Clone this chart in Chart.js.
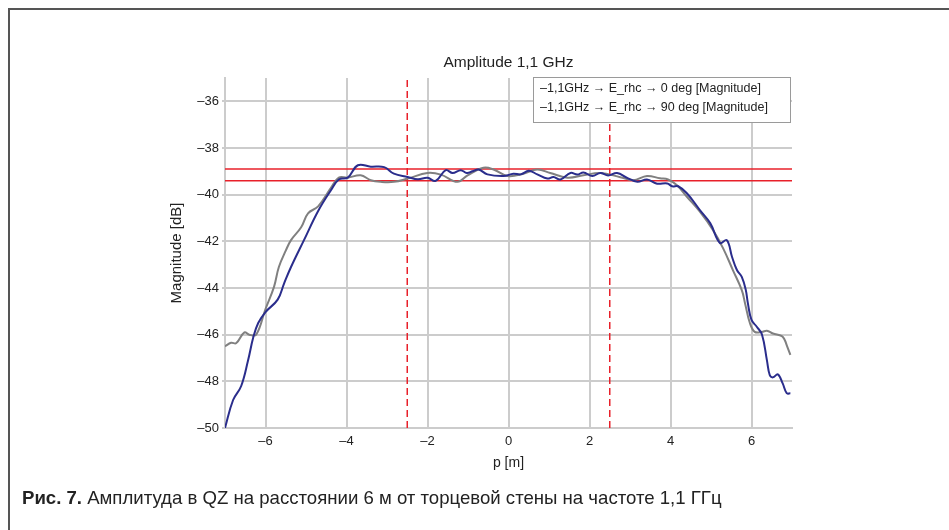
<!DOCTYPE html>
<html>
<head>
<meta charset="utf-8">
<script src="https://cdn.jsdelivr.net/npm/chart.js@4"></script>
<style>
  html, body { margin: 0; padding: 0; background: #fff; }
  #wrap { position: relative; width: 949px; height: 530px; overflow: hidden; }
  #frame { position: absolute; left: 8px; top: 8px; width: 960px; height: 540px;
           border-top: 2px solid #555; border-left: 2px solid #555; }
  #caption { position: absolute; left: 22px; top: 487px; font-family: "Liberation Sans Narrow", "Liberation Sans", sans-serif;
             font-size: 18.6px; color: #222; white-space: nowrap; }
  #caption b { font-weight: bold; }
  canvas { position: absolute; left: 0; top: 0; }
</style>
</head>
<body>
<div id="wrap">
  <div id="frame"></div>
  <canvas id="chart" width="949" height="530"></canvas>
  <div id="caption"><b>Рис. 7.</b> Амплитуда в QZ на расстоянии 6 м от торцевой стены на частоте 1,1 ГГц</div>
</div>
<script>
// --- Date ---
const chartTitle = 'Amplitude 1,1 GHz';
const xTicks = [-6, -4, -2, 0, 2, 4, 6];
const yTicks = [-50, -48, -46, -44, -42, -40, -38, -36];

// 0 deg (gri)
const p0 = [-7, -6.85, -6.72, -6.52, -6.4, -6.23, -6, -5.79, -5.67, -5.5, -5.37, -5.12, -4.95, -4.7, -4.38, -4.19,
  -3.97, -3.65, -3.4, -3.15, -2.83, -2.49, -2, -1.67, -1.26, -1.01, -0.62, -0.37, -0.02, 0.37, 0.71, 1.03, 1.45,
  1.85, 2.27, 2.76, 3.08, 3.42, 3.74, 3.94, 4.16, 4.41, 4.73, 5.05, 5.3, 5.54, 5.76, 5.84, 5.96, 6.08, 6.26, 6.38,
  6.53, 6.75, 6.82, 6.88, 6.96];
const mag0 = [-46.5, -46.35, -46.36, -45.9, -46.0, -46.0, -44.9, -43.95, -43.1, -42.4, -41.95, -41.4, -40.8, -40.5,
  -39.7, -39.27, -39.27, -39.17, -39.38, -39.45, -39.45, -39.31, -39.07, -39.14, -39.45, -39.17, -38.85, -38.92,
  -39.2, -39.1, -38.92, -39.07, -39.27, -39.17, -39.07, -39.25, -39.38, -39.2, -39.3, -39.35, -39.6, -40.1, -40.74,
  -41.52, -42.3, -43.23, -44.09, -44.65, -45.5, -45.88, -45.88, -45.83, -45.95, -46.06, -46.23, -46.5, -46.87];

// 90 deg (albastru)
const p90 = [-7, -6.8, -6.6, -6.43, -6.3, -6.18, -6, -5.7, -5.54, -5.37, -5.05, -4.7, -4.38, -4.19, -3.97, -3.72,
  -3.4, -3.07, -2.83, -2.49, -2.24, -2, -1.8, -1.55, -1.38, -1.18, -1.03, -0.89, -0.74, -0.52, -0.12, 0.12, 0.3, 0.5,
  0.71, 0.96, 1.11, 1.28, 1.53, 1.7, 1.85, 2.07, 2.27, 2.46, 2.68, 2.93, 3.18, 3.42, 3.67, 3.92, 4.04, 4.19, 4.41,
  4.73, 4.98, 5.22, 5.39, 5.52, 5.64, 5.76, 5.86, 5.91, 6.0, 6.13, 6.26, 6.38, 6.45, 6.53, 6.65, 6.77, 6.87, 6.96];
const mag90 = [-50, -48.8, -48.2, -47.1, -46.1, -45.5, -45.03, -44.5, -43.8, -43.1, -41.95, -40.7, -39.8, -39.35,
  -39.27, -38.74, -38.8, -38.82, -39.1, -39.24, -39.34, -39.28, -39.41, -38.95, -39.07, -38.95, -39.07, -39.0,
  -38.92, -39.13, -39.2, -39.1, -39.13, -38.98, -39.13, -39.31, -39.24, -39.35, -39.07, -39.14, -39.05, -39.2,
  -39.07, -39.18, -39.07, -39.28, -39.45, -39.35, -39.53, -39.52, -39.64, -39.64, -39.95, -40.67, -41.22, -42.07,
  -41.95, -42.67, -43.23, -43.52, -44.09, -44.65, -45.37, -45.66, -46.0, -47.09, -47.73, -47.83, -47.7, -48.09,
  -48.51, -48.51];

// Liniile rosii de referinta
const refLevels = [-38.9, -39.4];
const qzEdges = [-2.5, 2.5];

const labels = ['\u20131,1GHz \u2192 E_rhc \u2192 0 deg [Magnitude]', '\u20131,1GHz \u2192 E_rhc \u2192 90 deg [Magnitude]'];

const toPoints = (xs, ys) => xs.map((x, i) => ({ x: x, y: ys[i] }));
const dash = s => String(s).replace('-', '\u2013');
const FONT = '"Liberation Sans", Arial, sans-serif';

const datasets = [
  { label: labels[1], data: toPoints(p90, mag90), borderColor: '#2a2d8c', borderWidth: 2, tension: 0.4, order: 0 },
  { label: labels[0], data: toPoints(p0, mag0), borderColor: '#808080', borderWidth: 2, tension: 0.4, order: 1 }
];
refLevels.forEach(v => datasets.push({
  label: 'ref', data: [{ x: -7, y: v }, { x: 7, y: v }], borderColor: '#e8202a', borderWidth: 1.5, order: 2
}));
qzEdges.forEach(p => datasets.push({
  label: 'qz', data: [{ x: p, y: -50 }, { x: p, y: -35 }], borderColor: '#e8202a', borderWidth: 1.5,
  borderDash: [7, 4], order: 2
}));

// Titlu centrat pe zona graficului + legenda cu chenar
const decorations = {
  id: 'decorations',
  afterDraw(chart) {
    const { ctx, chartArea } = chart;
    ctx.save();
    ctx.fillStyle = '#222';
    ctx.font = '15.5px ' + FONT;
    ctx.textAlign = 'center';
    ctx.textBaseline = 'middle';
    ctx.fillText(chartTitle, (chartArea.left + chartArea.right) / 2, chartArea.top - 15);

    const w = 257, h = 45;
    const x0 = chartArea.right - w - 2, y0 = chartArea.top - 1;
    ctx.fillStyle = '#fff';
    ctx.fillRect(x0, y0, w, h);
    ctx.strokeStyle = '#9a9a9a';
    ctx.lineWidth = 1;
    ctx.strokeRect(x0 + 0.5, y0 + 0.5, w, h);
    ctx.fillStyle = '#222';
    ctx.font = '12.5px ' + FONT;
    ctx.textAlign = 'left';
    ctx.fillText(labels[0], x0 + 7, y0 + 12);
    ctx.fillText(labels[1], x0 + 7, y0 + 31);
    ctx.restore();
  }
};

new Chart(document.getElementById('chart'), {
  type: 'line',
  data: { datasets: datasets },
  options: {
    responsive: false,
    animation: false,
    layout: { padding: { left: 160, right: 157, top: 78, bottom: 52 } },
    elements: { point: { radius: 0 }, line: { fill: false } },
    plugins: {
      legend: { display: false },
      tooltip: { enabled: false },
      title: { display: false }
    },
    scales: {
      x: {
        type: 'linear', min: -7, max: 7,
        afterBuildTicks: s => { s.ticks = xTicks.map(v => ({ value: v })); },
        afterFit: s => { s.height = 50; },
        grid: { color: '#cccccc', lineWidth: 2, drawTicks: false },
        border: { display: true, color: '#cccccc', width: 2 },
        ticks: { padding: 6, color: '#222', font: { family: FONT, size: 13 }, callback: v => dash(v) },
        title: { display: true, text: 'p [m]', color: '#222', padding: { top: 0, bottom: 6 },
                 font: { family: FONT, size: 14 } }
      },
      y: {
        min: -50, max: -35,
        afterBuildTicks: s => { s.ticks = yTicks.map(v => ({ value: v })); },
        afterFit: s => { s.width = 65; },
        grid: { color: '#cccccc', lineWidth: 2, tickLength: 3 },
        border: { display: true, color: '#cccccc', width: 2 },
        ticks: { padding: 3, color: '#222', font: { family: FONT, size: 13 }, callback: v => dash(v) },
        title: { display: true, text: 'Magnitude [dB]', color: '#222', padding: { top: 8, bottom: 0 },
                 font: { family: FONT, size: 15 } }
      }
    }
  },
  plugins: [decorations]
});
</script>
</body>
</html>
